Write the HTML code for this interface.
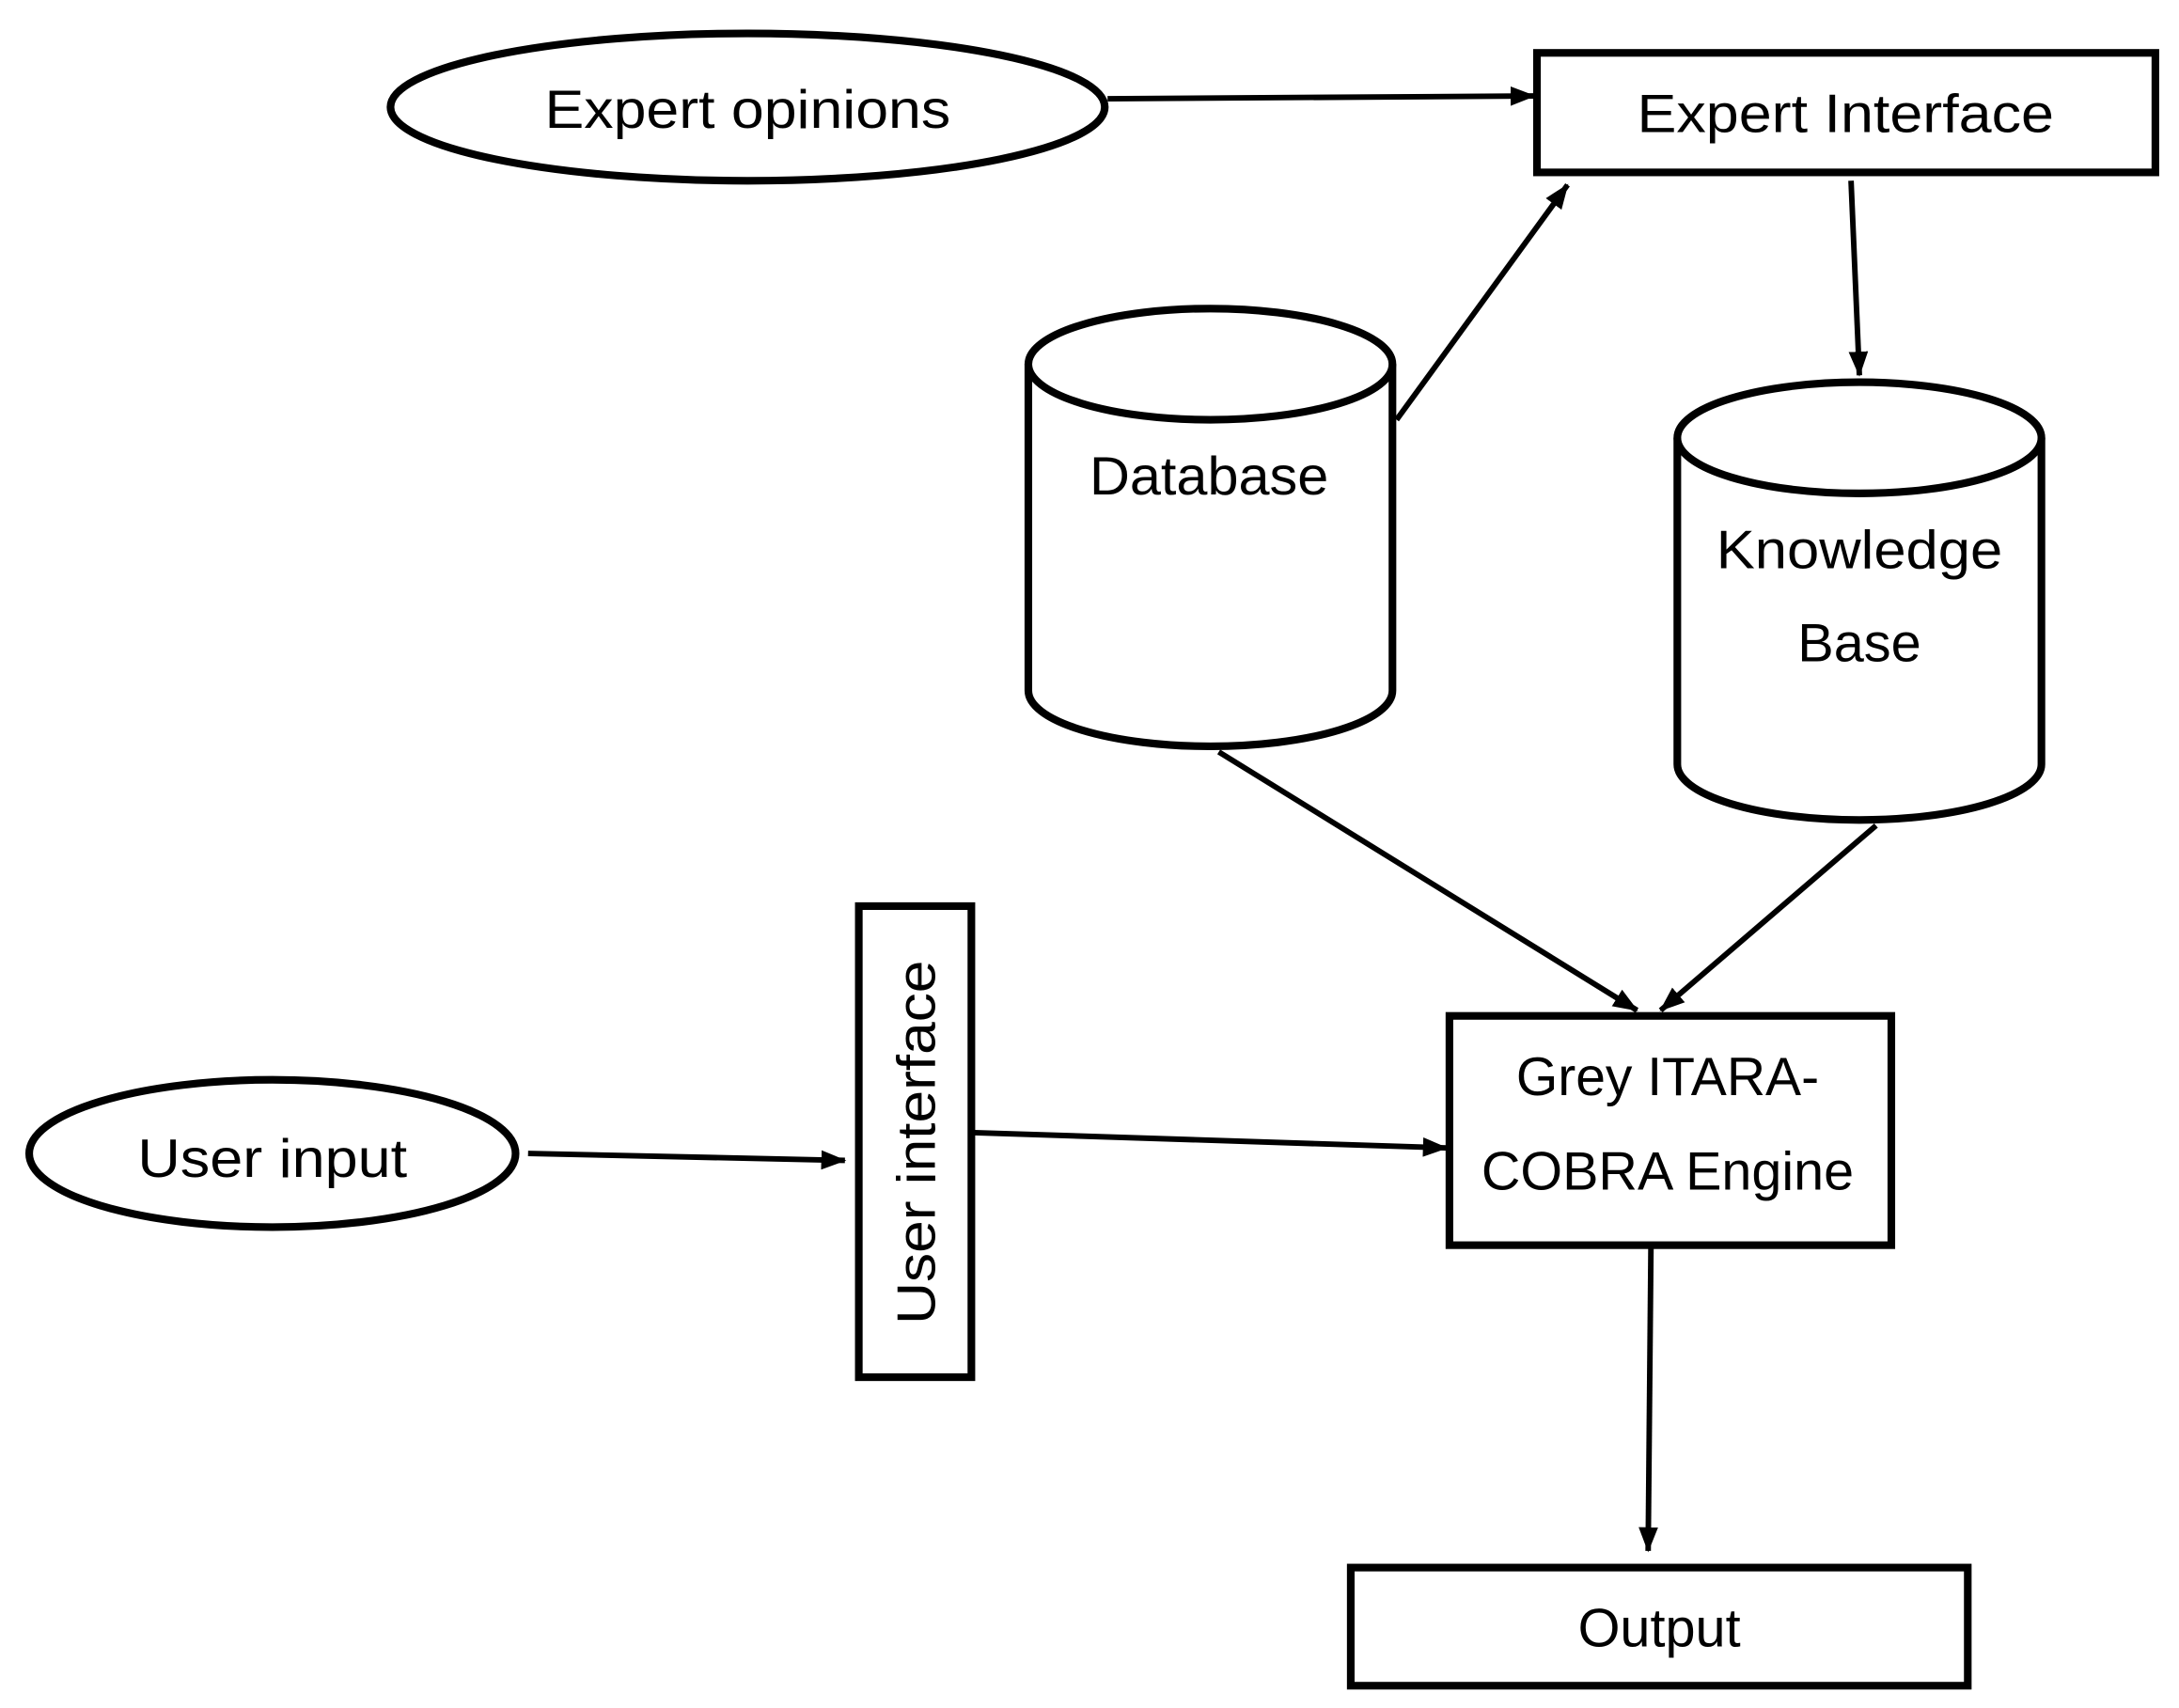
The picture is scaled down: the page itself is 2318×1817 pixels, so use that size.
<!DOCTYPE html>
<html><head><meta charset="utf-8"><style>
html,body{margin:0;padding:0;background:#fff;}
svg{display:block;}
text{font-family:"Liberation Sans","DejaVu Sans",sans-serif;font-size:39px;fill:#000;}
</style></head><body>
<svg width="2318" height="1817" viewBox="0 0 1568 1229" xmlns="http://www.w3.org/2000/svg">
<defs>
<marker id="a" markerWidth="18" markerHeight="14" refX="17" refY="7" orient="auto" markerUnits="userSpaceOnUse" viewBox="0 0 18 14">
<path d="M0,0 L18,7 L0,14 z" fill="#000"/>
</marker>
</defs>
<g fill="none" stroke="#000" stroke-width="5.5">
<ellipse cx="538" cy="77" rx="257" ry="53"/>
<rect x="1106" y="38" width="445" height="86"/>
<rect x="1043" y="731" width="318" height="165"/>
<rect x="618" y="652" width="81" height="339"/>
<ellipse cx="196" cy="830" rx="175" ry="53"/>
<rect x="972" y="1128" width="444" height="85"/>
<path d="M740,262 L740,497 A131,40 0 0 0 1002,497 L1002,262"/>
<ellipse cx="871" cy="262" rx="131" ry="40"/>
<path d="M1207,315 L1207,550 A131,40 0 0 0 1469,550 L1469,315"/>
<ellipse cx="1338" cy="315" rx="131" ry="40"/>
</g>
<g stroke="#000" stroke-width="4" fill="none" marker-end="url(#a)">
<line x1="797" y1="71" x2="1104" y2="69"/>
<line x1="1005" y1="302" x2="1128" y2="133"/>
<line x1="1332" y1="130" x2="1338" y2="270"/>
<line x1="877" y1="541" x2="1178" y2="727"/>
<line x1="1350" y1="594" x2="1195" y2="727"/>
<line x1="380" y1="830" x2="608" y2="835"/>
<line x1="701" y1="815" x2="1041" y2="826"/>
<line x1="1188" y1="898" x2="1186" y2="1116"/>
</g>
<g text-anchor="middle" dominant-baseline="central">
<text x="538" y="79" textLength="292" lengthAdjust="spacingAndGlyphs">Expert opinions</text>
<text x="1328" y="82" textLength="300" lengthAdjust="spacingAndGlyphs">Expert Interface</text>
<text x="870" y="343" textLength="172" lengthAdjust="spacingAndGlyphs">Database</text>
<text x="1338" y="396" textLength="206" lengthAdjust="spacingAndGlyphs">Knowledge</text>
<text x="1338" y="463">Base</text>
<text x="1200" y="775" textLength="218" lengthAdjust="spacingAndGlyphs">Grey ITARA-</text>
<text x="1200" y="843" textLength="268" lengthAdjust="spacingAndGlyphs">COBRA Engine</text>
<text x="196" y="834" textLength="194" lengthAdjust="spacingAndGlyphs">User input</text>
<text x="1194" y="1172">Output</text>
<text x="0" y="0" transform="translate(660,822) rotate(-90)" textLength="262" lengthAdjust="spacingAndGlyphs">User interface</text>
</g>
</svg>
</body></html>
